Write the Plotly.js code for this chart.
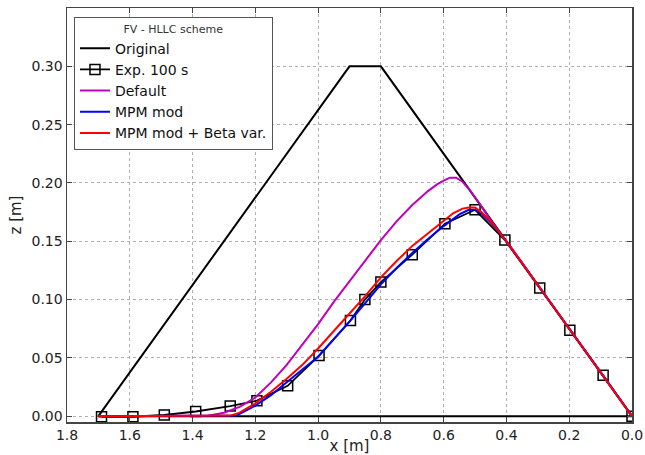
<!DOCTYPE html>
<html>
<head>
<meta charset="utf-8">
<script src="https://cdn.plot.ly/plotly-3.0.1.min.js"></script>
<style>html,body{margin:0;padding:0;background:#fff}#chart{width:645px;height:455px}</style>
</head>
<body>
<div id="chart"></div>
<script>
// Original profile (closed trapezoid)
const origX = [0.0, 0.8, 0.9, 1.7, 0.0];
const origZ = [0.0, 0.30, 0.30, 0.0, 0.0];

// Experimental profile after 100 s
const expX = [1.69, 1.59, 1.49, 1.39, 1.28, 1.195, 1.097, 0.997, 0.897, 0.851, 0.80, 0.70, 0.596, 0.50, 0.405, 0.294, 0.198, 0.092, 0.0];
const expZ = [-0.0005, -0.0005, 0.001, 0.004, 0.0087, 0.0133, 0.026, 0.052, 0.082, 0.100, 0.115, 0.1385, 0.165, 0.177, 0.151, 0.110, 0.0736, 0.035, 0.0];

// Default model
const defX = [1.7, 1.5, 1.4, 1.35, 1.3, 1.25, 1.2, 1.15, 1.1, 1.05, 1.0, 0.95, 0.9, 0.85, 0.8, 0.75, 0.7, 0.65, 0.62, 0.6, 0.58, 0.56, 0.54, 0.52, 0.5, 0.48, 0.45, 0.42, 0.4, 0.3, 0.2, 0.1, 0.0];
const defZ = [0.0, 0.0, 0.0, 0.0003, 0.003, 0.008, 0.016, 0.029, 0.044, 0.061, 0.079, 0.098, 0.116, 0.134, 0.151, 0.167, 0.181, 0.193, 0.199, 0.202, 0.2045, 0.2045, 0.201, 0.195, 0.188, 0.180, 0.168, 0.157, 0.150, 0.1125, 0.075, 0.0375, 0.0];

// MPM mod
const mpmX = [1.7, 1.4, 1.3, 1.26, 1.2, 1.15, 1.1, 1.05, 1.0, 0.95, 0.9, 0.85, 0.8, 0.75, 0.7, 0.65, 0.6, 0.55, 0.52, 0.5, 0.48, 0.45, 0.42, 0.4, 0.3, 0.2, 0.1, 0.0];
const mpmZ = [0.0, 0.0, 0.0, 0.0005, 0.009, 0.018, 0.029, 0.040, 0.051, 0.066, 0.081, 0.097, 0.113, 0.127, 0.140, 0.152, 0.163, 0.173, 0.177, 0.177, 0.174, 0.166, 0.157, 0.150, 0.1125, 0.075, 0.0375, 0.0];

// MPM mod + Beta var.
const betaX = [1.7, 1.4, 1.3, 1.28, 1.25, 1.2, 1.15, 1.1, 1.05, 1.0, 0.95, 0.9, 0.85, 0.8, 0.75, 0.7, 0.65, 0.6, 0.57, 0.54, 0.52, 0.5, 0.48, 0.45, 0.42, 0.4, 0.3, 0.2, 0.1, 0.0];
const betaZ = [0.0, 0.0, 0.0, 0.0005, 0.003, 0.011, 0.021, 0.032, 0.044, 0.058, 0.073, 0.088, 0.103, 0.119, 0.133, 0.146, 0.157, 0.168, 0.174, 0.178, 0.179, 0.179, 0.175, 0.167, 0.157, 0.150, 0.1125, 0.075, 0.0375, 0.0];

const FONT = 'DejaVu Sans, sans-serif';
const traces = [
  {x: origX, y: origZ, name: 'Original', mode: 'lines', line: {color: '#000000', width: 2}},
  {x: expX, y: expZ, name: 'Exp. 100 s', mode: 'lines+markers', line: {color: '#000000', width: 1.8},
   marker: {symbol: 'square-open', size: 10, color: '#000000', line: {width: 1.5, color: '#000000'}}},
  {x: defX, y: defZ, name: 'Default', mode: 'lines', line: {color: '#bf00bf', width: 2}},
  {x: mpmX, y: mpmZ, name: 'MPM mod', mode: 'lines', line: {color: '#0000ff', width: 2}},
  {x: betaX, y: betaZ, name: 'MPM mod + Beta var.', mode: 'lines', line: {color: '#ff0000', width: 2}}
];

const axisCommon = {
  showline: true, mirror: 'allticks', linecolor: '#444', linewidth: 1.5,
  ticks: 'inside', ticklen: 5, tickcolor: '#444',
  showgrid: true, gridcolor: '#b0b0b0', griddash: 'dot', gridwidth: 1,
  zeroline: false,
  tickfont: {family: FONT, size: 14, color: '#222'}
};

const layout = {
  width: 645, height: 455,
  paper_bgcolor: '#ffffff', plot_bgcolor: '#ffffff',
  margin: {l: 67, r: 13, t: 8, b: 33},
  showlegend: true,
  xaxis: Object.assign({}, axisCommon, {
    range: [1.8, 0.0], tickvals: [1.8, 1.6, 1.4, 1.2, 1.0, 0.8, 0.6, 0.4, 0.2, 0.0], tickformat: '.1f',
    title: {text: 'x [m]', font: {family: FONT, size: 15, color: '#222'}, standoff: 1}
  }),
  yaxis: Object.assign({}, axisCommon, {
    range: [-0.005, 0.35], tickvals: [0, 0.05, 0.10, 0.15, 0.20, 0.25, 0.30], tickformat: '.2f',
    title: {text: 'z [m]', font: {family: FONT, size: 15, color: '#222'}, standoff: 6}
  }),
  legend: {
    x: 0.012, y: 0.978, xanchor: 'left', yanchor: 'top',
    bgcolor: '#ffffff', bordercolor: '#555', borderwidth: 1.2,
    font: {family: FONT, size: 14, color: '#111'},
    title: {text: 'FV - HLLC scheme', side: 'top center', font: {family: FONT, size: 11, color: '#333'}},
    traceorder: 'normal'
  }
};

Plotly.newPlot('chart', traces, layout, {staticPlot: true, displayModeBar: false});
</script>
</body>
</html>
